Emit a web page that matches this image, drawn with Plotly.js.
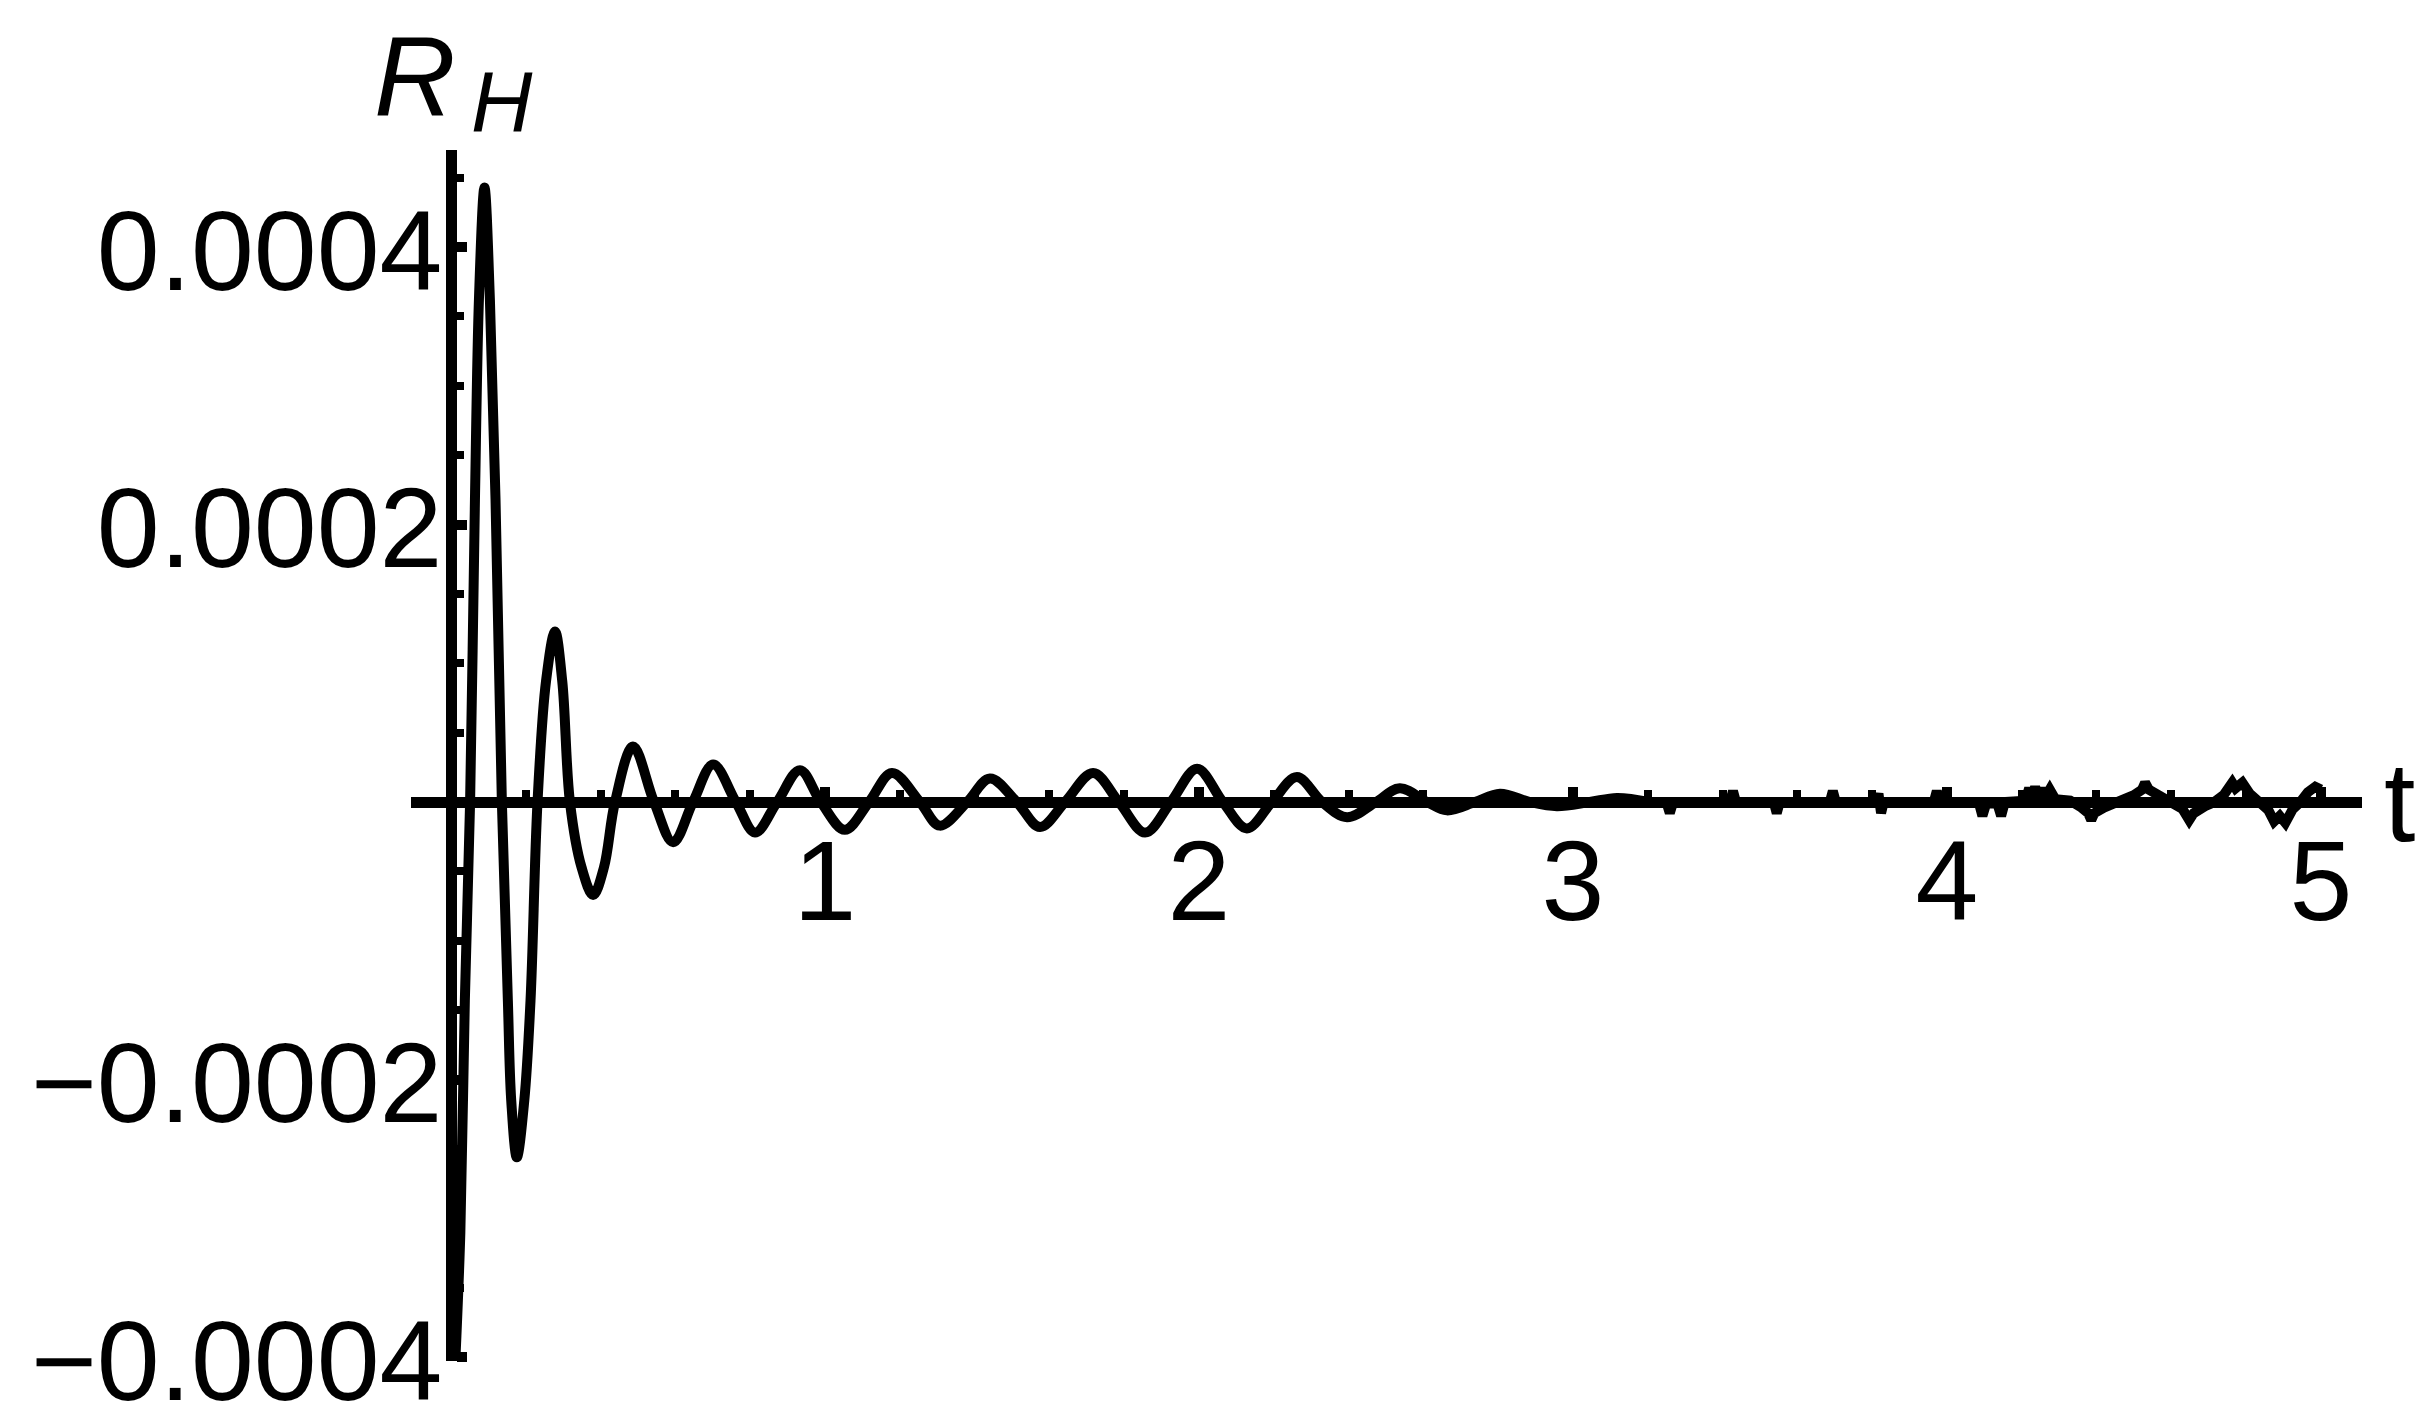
<!DOCTYPE html>
<html>
<head>
<meta charset="utf-8">
<script src="https://cdn.plot.ly/plotly-3.0.1.min.js"></script>
<style>
  html, body { margin: 0; padding: 0; background: #ffffff; }
  #chart { width: 2433px; height: 1415px; }
</style>
</head>
<body>
<div id="chart"></div>
<script>
// ---- data (t, R_H) ----
const tMain = [
  0.000, 0.012, 0.025, 0.037, 0.051, 0.064, 0.075, 0.0895, 0.104, 0.119, 0.136, 0.152, 0.161, 0.176,
  0.196, 0.2126, 0.2313, 0.254, 0.278, 0.2975, 0.318, 0.349, 0.380, 0.409, 0.4385, 0.4866, 0.543,
  0.594, 0.647, 0.701, 0.762, 0.813, 0.872, 0.933, 0.989, 1.053, 1.118, 1.179, 1.254, 1.307, 1.380,
  1.441, 1.513, 1.575, 1.642, 1.717, 1.786, 1.856, 1.925, 1.995, 2.064, 2.128, 2.195, 2.262, 2.329,
  2.396, 2.473, 2.537, 2.610, 2.663, 2.738, 2.805, 2.885, 2.957, 3.045, 3.118, 3.206
];
const rhMain = [
  -0.00047, -0.00040, -0.00031, -0.000143, 0, 0.000218, 0.000365, 0.000443, 0.000362, 0.000218, 0, -0.000143, -0.000215, -0.000256,
  -0.000215, -0.000143, 0, 0.000087, 0.000123, 0.000087, 0, -0.000047, -0.000067, -0.000047, 0, 0.000040, 0,
  -0.000029, 0, 0.000027, 0, -0.000022, 0, 0.000023, 0, -0.000020, 0, 0.000021, 0, -0.000017, 0,
  0.000017, 0, -0.000018, 0, 0.000021, 0, -0.000022, 0, 0.000024, 0, -0.000019, 0, 0.000018, 0,
  -0.000011, 0, 0.000010, 0, -0.000006, 0, 0.000006, 0, -0.000003, 0, 0.000003, 0
];
const tTail = [
  3.206, 3.250, 3.259, 3.268, 3.420, 3.428, 3.436, 3.537, 3.545, 3.553, 3.687, 3.695, 3.703,
  3.810, 3.817, 3.824, 3.831, 3.965, 3.973, 3.981, 4.085, 4.095, 4.105, 4.135, 4.145, 4.155,
  4.210, 4.220, 4.228, 4.236, 4.244, 4.252, 4.262, 4.275, 4.290, 4.330, 4.360, 4.378, 4.386,
  4.394, 4.420, 4.460, 4.500, 4.522, 4.530, 4.540, 4.575, 4.600, 4.630, 4.648, 4.660, 4.690,
  4.715, 4.740, 4.763, 4.772, 4.790, 4.810, 4.835, 4.860, 4.875, 4.890, 4.905, 4.925, 4.945,
  4.965, 4.985, 5.000
];
const rhTail = [
  0, 0, -0.000008, 0, 0, 0.000008, 0, 0, -0.000008, 0, 0, 0.000008, 0,
  0, 0.000006, -0.000008, 0, 0, 0.000008, 0, 0, -0.000010, -0.000001, -0.000001, -0.000010, 0,
  0.000001, 0.000010, 0.000003, 0.000011, 0.000003, 0.000010, 0.000003, 0.000009, 0.000002, 0.000001, -0.000004, -0.000008, -0.000013,
  -0.000008, -0.000004, 0, 0.000005, 0.000009, 0.000014, 0.000009, 0.000004, 0, -0.000005, -0.000013, -0.000008, -0.000003,
  0, 0.000005, 0.000014, 0.000010, 0.000014, 0.000006, 0, -0.000006, -0.000014, -0.000010, -0.000015, -0.000005, 0,
  0.000007, 0.000011, 0.000009
];

// ---- axis ticks ----
const xTickVals = [1, 2, 3, 4, 5];
const xTickText = ['1', '2', '3', '4', '5'];
const yTickVals = [-0.0004, -0.0002, 0.0002, 0.0004];
const yTickText = ['\u22120.0004', '\u22120.0002', '0.0002', '0.0004'];
const xTitle = 't';
const yTitleMain = 'R';
const yTitleSub = 'H';

// ---- geometry (pixels) ----
const W = 2433, H = 1415;
const mL = 411, mR = 71, mT = 150, mB = 54;
const plotW = W - mL - mR, plotH = H - mT - mB;
const xRange = [-0.107, 5.11];
const yRange = [-0.00040288, 0.00047];
const px2paperX = px => (px - mL) / plotW;
const py2paperY = py => (H - mB - py) / plotH;

const FONT = 'Liberation Sans, Arial, Helvetica, sans-serif';
const tickFont = { family: FONT, size: 113, color: '#000000' };

const traces = [
  { x: tMain, y: rhMain, type: 'scatter', mode: 'lines',
    line: { color: '#000000', width: 10, shape: 'spline', smoothing: 1 }, hoverinfo: 'skip' },
  { x: tTail, y: rhTail, type: 'scatter', mode: 'lines',
    line: { color: '#000000', width: 10, shape: 'linear' }, hoverinfo: 'skip' }
];

const layout = {
  width: W, height: H,
  margin: { l: mL, r: mR, t: mT, b: mB, pad: 0 },
  paper_bgcolor: '#ffffff', plot_bgcolor: '#ffffff',
  showlegend: false,
  xaxis: {
    range: xRange, anchor: 'free',
    position: (0 - yRange[0]) / (yRange[1] - yRange[0]),
    showline: true, linecolor: '#000000', linewidth: 11,
    ticks: 'inside', ticklen: 10, tickwidth: 10, tickcolor: '#000000',
    tickmode: 'array', tickvals: xTickVals, ticktext: xTickText,
    tickfont: tickFont, ticklabelstandoff: -24, ticklabeloverflow: 'allow',
    showgrid: false, zeroline: false,
    minor: { tickmode: 'linear', tick0: 0, dtick: 0.2, ticks: 'inside', ticklen: 7, tickwidth: 8, tickcolor: '#000000', showgrid: false }
  },
  yaxis: {
    range: yRange, anchor: 'free',
    position: (0 - xRange[0]) / (xRange[1] - xRange[0]),
    showline: true, linecolor: '#000000', linewidth: 11,
    ticks: 'inside', ticklen: 10, tickwidth: 10, tickcolor: '#000000',
    tickmode: 'array', tickvals: yTickVals, ticktext: yTickText,
    tickfont: tickFont, ticklabelstandoff: -19, ticklabelshift: 3, ticklabeloverflow: 'allow',
    showgrid: false, zeroline: false,
    minor: { tickmode: 'linear', tick0: 0, dtick: 0.00005, ticks: 'inside', ticklen: 6.5, tickwidth: 8, tickcolor: '#000000', showgrid: false }
  },
  annotations: [
    { text: yTitleMain, xref: 'paper', yref: 'paper', x: px2paperX(372), y: py2paperY(76),
      xanchor: 'left', yanchor: 'middle', showarrow: false,
      font: { family: FONT, size: 113, color: '#000000', style: 'italic' } },
    { text: yTitleSub, xref: 'paper', yref: 'paper', x: px2paperX(469), y: py2paperY(101),
      xanchor: 'left', yanchor: 'middle', showarrow: false,
      font: { family: FONT, size: 85, color: '#000000', style: 'italic' } },
    { text: xTitle, xref: 'paper', yref: 'paper', x: px2paperX(2382), y: py2paperY(802),
      xanchor: 'left', yanchor: 'middle', showarrow: false,
      font: { family: FONT, size: 113, color: '#000000' } }
  ]
};

Plotly.newPlot('chart', traces, layout, { displayModeBar: false, staticPlot: true });
</script>
</body>
</html>
